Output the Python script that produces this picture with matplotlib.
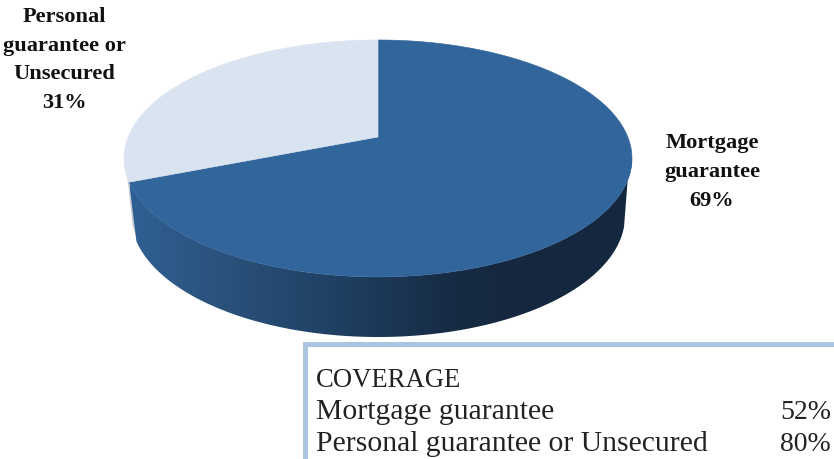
import numpy as np
import matplotlib
matplotlib.use("Agg")
import matplotlib.pyplot as plt
from matplotlib.colors import LinearSegmentedColormap
from matplotlib.patches import Polygon, Rectangle

# data
shares = [69, 31]
pie_labels = ["Mortgage\nguarantee\n69%", "Personal\nguarantee or\nUnsecured\n31%"]
coverage_title = "COVERAGE"
coverage_names = ["Mortgage guarantee", "Personal guarantee or Unsecured"]
coverage_values = ["52%", "80%"]

plt.rcParams["font.family"] = ["Liberation Serif", "DejaVu Serif"]

fig = plt.figure(figsize=(8.34, 4.59), dpi=100)
ax = fig.add_axes([0, 0, 1, 1])
ax.set_xlim(0, 834)
ax.set_ylim(459, 0)
ax.axis("off")

# the tilted disc: a circle seen in perspective, apex sits above the ellipse centre
cx, cy = 378, 137
sx, sy, k = 249.8, 114.6, 0.181


def top_point(a):
    w = 1 + k * np.sin(a)
    return cx + sx * np.cos(a) / w, cy - sy * np.sin(a) / w


def low_point(t):
    return 378 + 247 * np.cos(t), 216 - 121 * np.sin(t)


split = np.pi / 2 - 2 * np.pi * shares[0] / sum(shares)

# thin light edge of the small slice
ax.add_patch(Polygon([(125.5, 160), (130, 182), (136, 236), (132.5, 225)],
                     fc="#c4c9d2", ec="none", zorder=1))

# side wall with the horizontal shading
a = np.linspace(split, np.radians(-4), 200)
xs, ys = top_point(a)
lx, ly = low_point(np.linspace(np.radians(-5), np.radians(-168), 200))
wall = Polygon(np.r_[np.c_[xs, ys], np.c_[lx, ly]], fc="none", ec="none")
ax.add_patch(wall)
cmap = LinearSegmentedColormap.from_list(
    "wall", [(0, "#2f6093"), (0.18, "#2a527c"), (0.42, "#1f3f62"),
             (0.66, "#162a42"), (0.84, "#15273f"), (1, "#15273f")])
img = ax.imshow(np.linspace(0, 1, 256).reshape(1, -1), cmap=cmap, aspect="auto",
                extent=(130, 632, 345, 160), zorder=2)
img.set_clip_path(wall)
ax.set_xlim(0, 834)
ax.set_ylim(459, 0)

# top face
a = np.linspace(np.pi / 2, split, 300)
xs, ys = top_point(a)
ax.add_patch(Polygon(np.r_[[(cx, cy)], np.c_[xs, ys]], fc="#31659b", ec="#31659b",
                     lw=0.4, zorder=3))
a = np.linspace(split, np.pi / 2 - 2 * np.pi, 200)
xs, ys = top_point(a)
ax.add_patch(Polygon(np.r_[[(cx, cy)], np.c_[xs, ys]], fc="#dae3f0", ec="#dae3f0",
                     lw=0.4, zorder=3))

# slice labels
ax.text(712, 172, pie_labels[0], ha="center", va="center", fontsize=16.1,
        fontweight="bold", color="#111111", linespacing=1.57)
ax.text(64, 60, pie_labels[1], ha="center", va="center", fontsize=16.1,
        fontweight="bold", color="#111111", linespacing=1.57)

# coverage box, runs off the page to the right and bottom
ax.add_patch(Rectangle((303, 341.5), 540, 5.5, fc="#a9c5e2", ec="none", zorder=4))
ax.add_patch(Rectangle((303, 341.5), 5, 130, fc="#a9c5e2", ec="none", zorder=4))
ax.text(316, 387, coverage_title, fontsize=19.2, color="#222222", va="baseline")
rows_y = [419, 451]
for name, value, y in zip(coverage_names, coverage_values, rows_y):
    ax.text(316, y, name, fontsize=21.3, color="#222222", va="baseline")
    ax.text(831, y, value, fontsize=20, color="#222222", va="baseline", ha="right")

fig.savefig("out.png", dpi=100)
